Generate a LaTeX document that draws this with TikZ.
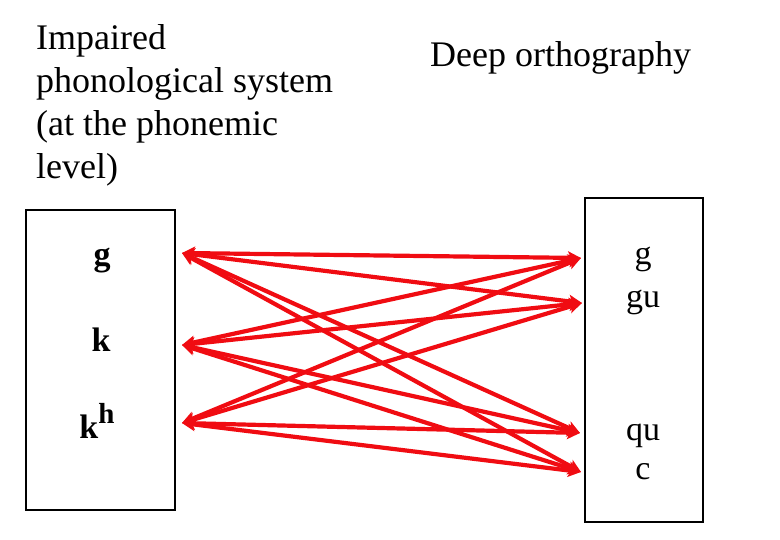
\documentclass[tikz,border=0pt]{standalone}
\usepackage{fontspec}
\setmainfont{Liberation Serif}
\usetikzlibrary{arrows.meta}
\definecolor{linkred}{RGB}{240,12,18}
\begin{document}
\begin{tikzpicture}[x=1pt,y=-1pt,
  title/.style={inner sep=0pt,font=\fontsize{36}{43}\selectfont},
  phon/.style={inner sep=0pt,anchor=base,font=\fontsize{34}{40}\selectfont\bfseries},
  graph/.style={inner sep=0pt,anchor=base,font=\fontsize{34}{40}\selectfont},
  panel/.style={draw=black,line width=1.3pt},
  link/.style={draw=linkred,line width=4.2pt,{Stealth[length=13pt,width=13pt,inset=3pt]}-{Stealth[length=13pt,width=13pt,inset=3pt]}}
]
\useasboundingbox (0,0) rectangle (780,540);
% titles
\node[title,anchor=north west,align=left] (lefttitle) at (36,24.5)
  {Impaired\\phonological system\\(at the phonemic\\level)};
\node[title,anchor=base west] (righttitle) at (430,67) {Deep orthography};
% panels
\draw[panel] (26,210) rectangle (175,510);
\draw[panel] (585,198) rectangle (703,522);
% phonemes
\node[phon] (pg) at (102,266) {g};
\node[phon] (pk) at (101,352) {k};
\node[phon] (pkh) at (97,438) {k\raisebox{15pt}{\fontsize{29}{29}\selectfont h}};
% graphemes
\node[graph] (gg) at (643,265) {g};
\node[graph] (ggu) at (643,308) {gu};
\node[graph] (gqu) at (643,440) {qu};
\node[graph] (gc) at (643,479) {c};
% connector end points
\coordinate (lg) at (182,253);
\coordinate (lk) at (182,345);
\coordinate (lkh) at (182,423);
\coordinate (rg) at (581,258);
\coordinate (rgu) at (582,303);
\coordinate (rqu) at (580,433);
\coordinate (rc) at (581,472);
% connectors
\foreach \a in {lg,lk,lkh}{
  \foreach \b in {rg,rgu,rqu,rc}{
    \path[link] (\a) -- (\b);
  }
}
\end{tikzpicture}
\end{document}
